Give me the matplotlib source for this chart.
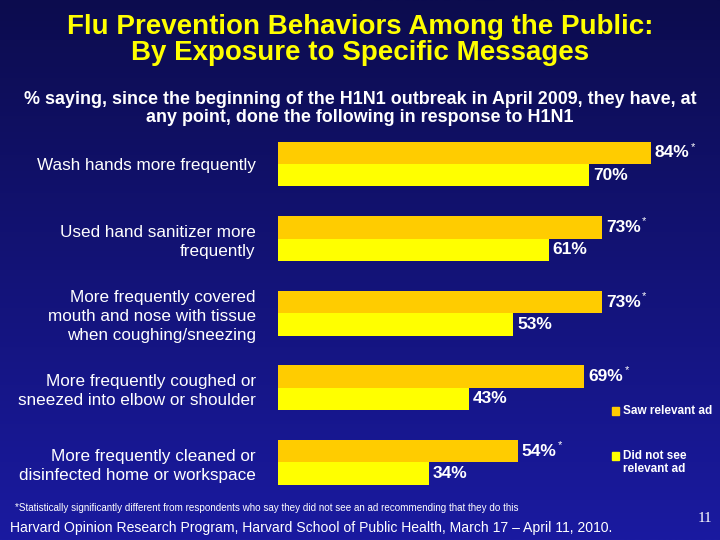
import numpy as np
import matplotlib
matplotlib.use("Agg")
import matplotlib.pyplot as plt
from matplotlib.patches import Rectangle

plt.rcParams['font.family'] = ['Liberation Sans', 'DejaVu Sans']

# data
behaviors = ["Wash hands more frequently",
             "Used hand sanitizer more\nfrequently",
             "More frequently covered\nmouth and nose with tissue\nwhen coughing/sneezing",
             "More frequently coughed or\nsneezed into elbow or shoulder",
             "More frequently cleaned or\ndisinfected home or workspace"]
saw_ad = [84, 73, 73, 69, 54]
no_ad = [70, 61, 53, 43, 34]
significant = [True, True, True, True, True]
series_names = ["Saw relevant ad", "Did not see\nrelevant ad"]

orange = "#FFCC00"
yellow = "#FFFF00"

fig = plt.figure(figsize=(7.2, 5.4), dpi=100)

# blue gradient background
bg = fig.add_axes([0, 0, 1, 1], zorder=-1)
top = np.array([12, 12, 78]) / 255
bottom = np.array([26, 26, 160]) / 255
t = np.linspace(0, 1, 256)[:, None]
grad = (top + (bottom - top) * t)[:, None, :]
bg.imshow(grad, aspect='auto', extent=[0, 1, 0, 1])
bg.axis('off')

ax = fig.add_axes([278 / 720, 45 / 540, 442 / 720, 365 / 540])
ax.patch.set_alpha(0)
y = np.arange(len(behaviors))
h = 0.30
ax.barh(y - h / 2, saw_ad, height=h, color=orange)
ax.barh(y + h / 2, no_ad, height=h, color=yellow)
ax.set_xlim(0, 442 / 4.44)
ax.set_ylim(4.437, -0.456)
ax.set_yticks(y)
ax.set_yticklabels(behaviors, color="white", fontsize=12.3)
for lbl in ax.get_yticklabels():
    lbl.set_linespacing(1.32)
ax.tick_params(axis='y', length=0, pad=16)
ax.set_xticks([])
for s in ax.spines.values():
    s.set_visible(False)

for i in range(len(behaviors)):
    txt = ax.text(saw_ad[i] + 0.9, y[i] - h / 2, f"{saw_ad[i]}%", color="white",
                  fontsize=12.5, fontweight="bold", va="center", ha="left")
    if significant[i]:
        ax.annotate("*", xy=(1, 1), xycoords=txt, xytext=(1, -1),
                    textcoords="offset points", color="white", fontsize=8,
                    ha="left", va="center")
    ax.text(no_ad[i] + 0.9, y[i] + h / 2, f"{no_ad[i]}%", color="white",
            fontsize=12.5, fontweight="bold", va="center", ha="left")

# legend, drawn by hand so the key lines up with the first text line
leg_y = [411, 456]
for col, name, yy in zip([orange, yellow], series_names, leg_y):
    fig.patches.append(Rectangle((612 / 720, 1 - (yy + 4) / 540), 7 / 720, 8 / 540,
                                 transform=fig.transFigure, color=col))
    two = "\n" in name
    fig.text(623 / 720, 1 - (yy - 6 if two else yy) / 540, name, color="white",
             fontsize=8.5, fontweight="bold", ha="left",
             va="top" if two else "center", linespacing=1.12)

fig.text(0.5, 1 - 40 / 540,
         "Flu Prevention Behaviors Among the Public:\nBy Exposure to Specific Messages",
         color=yellow, fontsize=20, fontweight="bold", ha="center", va="center",
         linespacing=0.98)
fig.text(0.5, 1 - 108.5 / 540,
         "% saying, since the beginning of the H1N1 outbreak in April 2009, they have, at\n"
         "any point, done the following in response to H1N1",
         color="white", fontsize=12.9, fontweight="bold", ha="center", va="center",
         linespacing=1.1)
fig.text(15 / 720, 1 - 508 / 540,
         "*Statistically significantly different from respondents who say they did not see an ad recommending that they do this",
         color="white", fontsize=7.1, ha="left", va="center")
fig.text(10 / 720, 1 - 528 / 540,
         "Harvard Opinion Research Program, Harvard School of Public Health, March 17 \u2013 April 11, 2010.",
         color="white", fontsize=10.1, ha="left", va="center")
fig.text(705 / 720, 1 - 518 / 540, "11", color="white", fontsize=11,
         family="Liberation Serif", ha="center", va="center")

fig.savefig("out.png", dpi=100)
